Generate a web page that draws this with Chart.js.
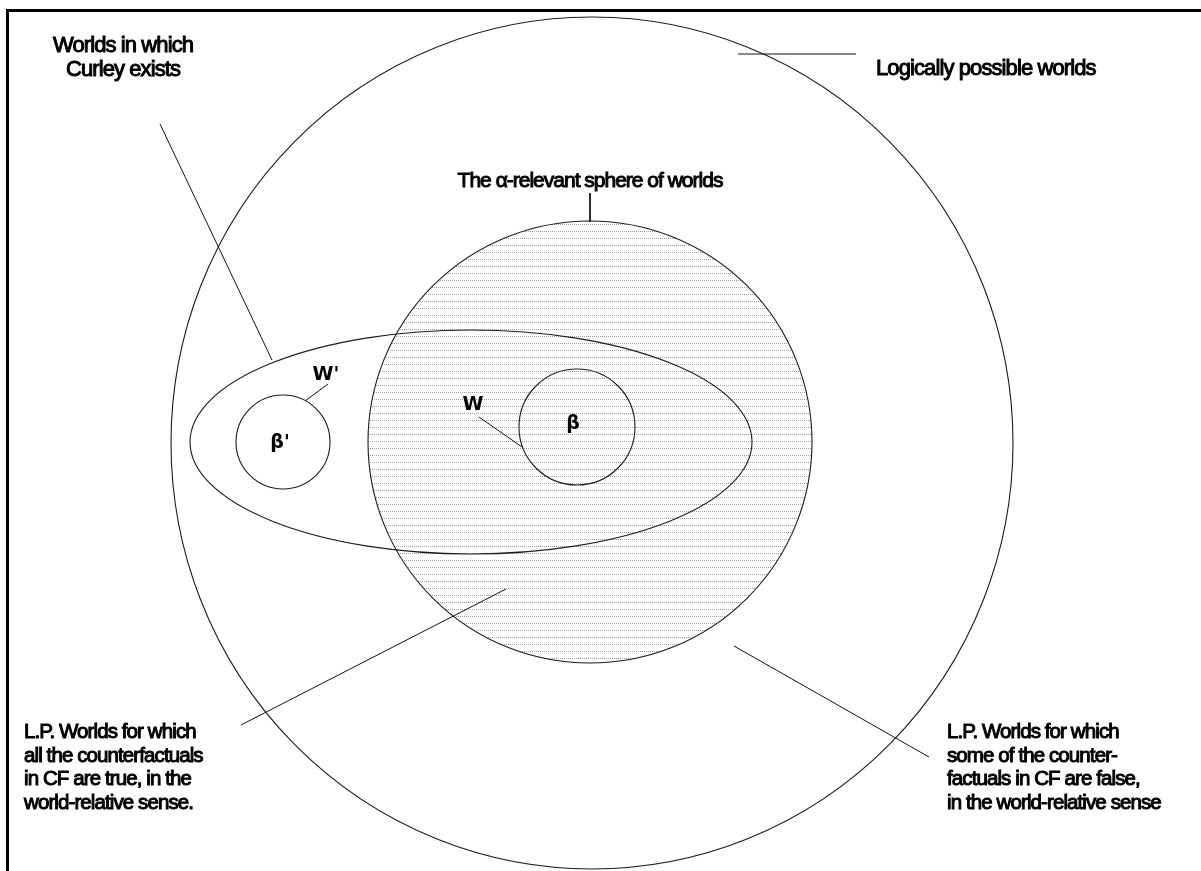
<!DOCTYPE html>
<html>
<head>
<meta charset="utf-8">
<script src="https://cdn.jsdelivr.net/npm/chart.js@4"></script>
<style>
  html, body { margin: 0; padding: 0; background: #fff; }
  #wrap { width: 1201px; height: 871px; }
</style>
</head>
<body>
<div id="wrap"><canvas id="worldsChart"></canvas></div>
<script>
// regions (ellipses), in picture units: x to the right, y downwards
const regionNames = ['Logically possible worlds', 'alpha-relevant sphere', 'Curley exists', 'beta', 'beta prime'];
const regionX = [592, 590, 471, 577, 283];
const regionY = [443, 442, 442, 427, 442];
const regionRx = [421, 222, 281, 58, 47];
const regionRy = [426, 221, 112, 58, 47];
const regionShaded = [false, true, false, false, false];

// leader lines from each label to its region
const leaderStart = [[160, 124], [738, 54], [590, 193], [305, 401], [479, 417], [241, 725], [929, 757]];
const leaderEnd = [[272, 360], [856, 54], [590, 222], [328, 384], [522, 447], [506, 589], [734, 646]];

// the frame round the figure (top and left edges only are in view)
const frameX = [7.5, 7.5, 1201];
const frameY = [871, 10.5, 10.5];

// labels
const captionLines = [
  ['Worlds in which', 'Curley exists'],
  ['Logically possible worlds'],
  ['The \u03b1-relevant sphere of worlds'],
  ['L.P. Worlds for which', 'all the counterfactuals', 'in CF are true, in the', 'world-relative sense.'],
  ['L.P. Worlds for which', 'some of the counter-', 'factuals in CF are false,', 'in the world-relative sense']
];
const captionX = [123, 876, 590, 24, 947];
const captionY = [52, 75, 187, 738, 738];
const captionAlign = ['center', 'left', 'center', 'left', 'left'];
const captionKind = ['top', 'top', 'mid', 'bottom', 'bottom'];

const symbolText = ["W'", 'W', '\u03b2', "\u03b2'"];
const symbolX = [326, 473, 573, 280];
const symbolY = [375, 405, 424, 443];

// caption fonts per kind
const fontFor = {
  top: { size: 22, spacing: '-0.9px', lead: 24 },
  mid: { size: 21, spacing: '-1px', lead: 24 },
  bottom: { size: 20.5, spacing: '-0.9px', lead: 23.5 }
};

function shadePattern(ctx) {
  const c = document.createElement('canvas');
  c.width = 2; c.height = 7;
  const g = c.getContext('2d');
  g.fillStyle = '#a0a0a0';
  g.fillRect(0, 0, 1, 1);
  return ctx.createPattern(c, 'repeat');
}

const diagramPlugin = {
  id: 'diagram',
  beforeDatasetsDraw(chart) {
    const { ctx, scales: { x, y } } = chart;
    const kx = x.getPixelForValue(1) - x.getPixelForValue(0);
    const ky = Math.abs(y.getPixelForValue(1) - y.getPixelForValue(0));
    const path = i => {
      ctx.beginPath();
      ctx.ellipse(x.getPixelForValue(regionX[i]), y.getPixelForValue(regionY[i]),
        regionRx[i] * kx, regionRy[i] * ky, 0, 0, Math.PI * 2);
    };
    ctx.save();
    regionNames.forEach((n, i) => {
      if (!regionShaded[i]) return;
      path(i);
      ctx.fillStyle = shadePattern(ctx);
      ctx.fill();
    });
    ctx.strokeStyle = '#1c1c1c';
    ctx.lineWidth = 1.1;
    regionNames.forEach((n, i) => { path(i); ctx.stroke(); });
    ctx.restore();
  },
  afterDatasetsDraw(chart) {
    const { ctx, scales: { x, y } } = chart;
    ctx.save();
    ctx.fillStyle = '#000';
    ctx.strokeStyle = '#000';
    ctx.textBaseline = 'alphabetic';
    ctx.lineWidth = 1;

    // captions
    captionLines.forEach((lines, i) => {
      const f = fontFor[captionKind[i]];
      ctx.font = f.size + 'px "Liberation Sans", Arial, sans-serif';
      ctx.letterSpacing = f.spacing;
      ctx.textAlign = captionAlign[i];
      lines.forEach((t, j) => {
        const px = x.getPixelForValue(captionX[i]);
        const py = y.getPixelForValue(captionY[i] + j * f.lead);
        ctx.fillText(t, px, py);
        ctx.strokeText(t, px, py);
      });
    });

    // W, beta symbols
    ctx.font = 'bold 19px "DejaVu Sans", Verdana, sans-serif';
    ctx.letterSpacing = '0px';
    ctx.textAlign = 'center';
    ctx.textBaseline = 'middle';
    symbolText.forEach((t, i) => {
      ctx.fillText(t, x.getPixelForValue(symbolX[i]), y.getPixelForValue(symbolY[i]));
    });
    ctx.restore();
  }
};

const lineSets = leaderStart.map((p, i) => ({
  data: [{ x: p[0], y: p[1] }, { x: leaderEnd[i][0], y: leaderEnd[i][1] }],
  showLine: true,
  borderColor: '#111',
  borderWidth: 1,
  pointRadius: 0
}));
lineSets.push({
  data: frameX.map((v, i) => ({ x: v, y: frameY[i] })),
  showLine: true,
  borderColor: '#000',
  borderWidth: 3,
  pointRadius: 0,
  clip: false
});

new Chart(document.getElementById('worldsChart'), {
  type: 'scatter',
  data: { datasets: lineSets },
  options: {
    responsive: true,
    maintainAspectRatio: false,
    animation: false,
    layout: { padding: 0 },
    plugins: {
      legend: { display: false },
      tooltip: { enabled: false }
    },
    scales: {
      x: { type: 'linear', min: 0, max: 1201, display: false },
      y: { type: 'linear', min: 0, max: 871, reverse: true, display: false }
    }
  },
  plugins: [diagramPlugin]
});
</script>
</body>
</html>
